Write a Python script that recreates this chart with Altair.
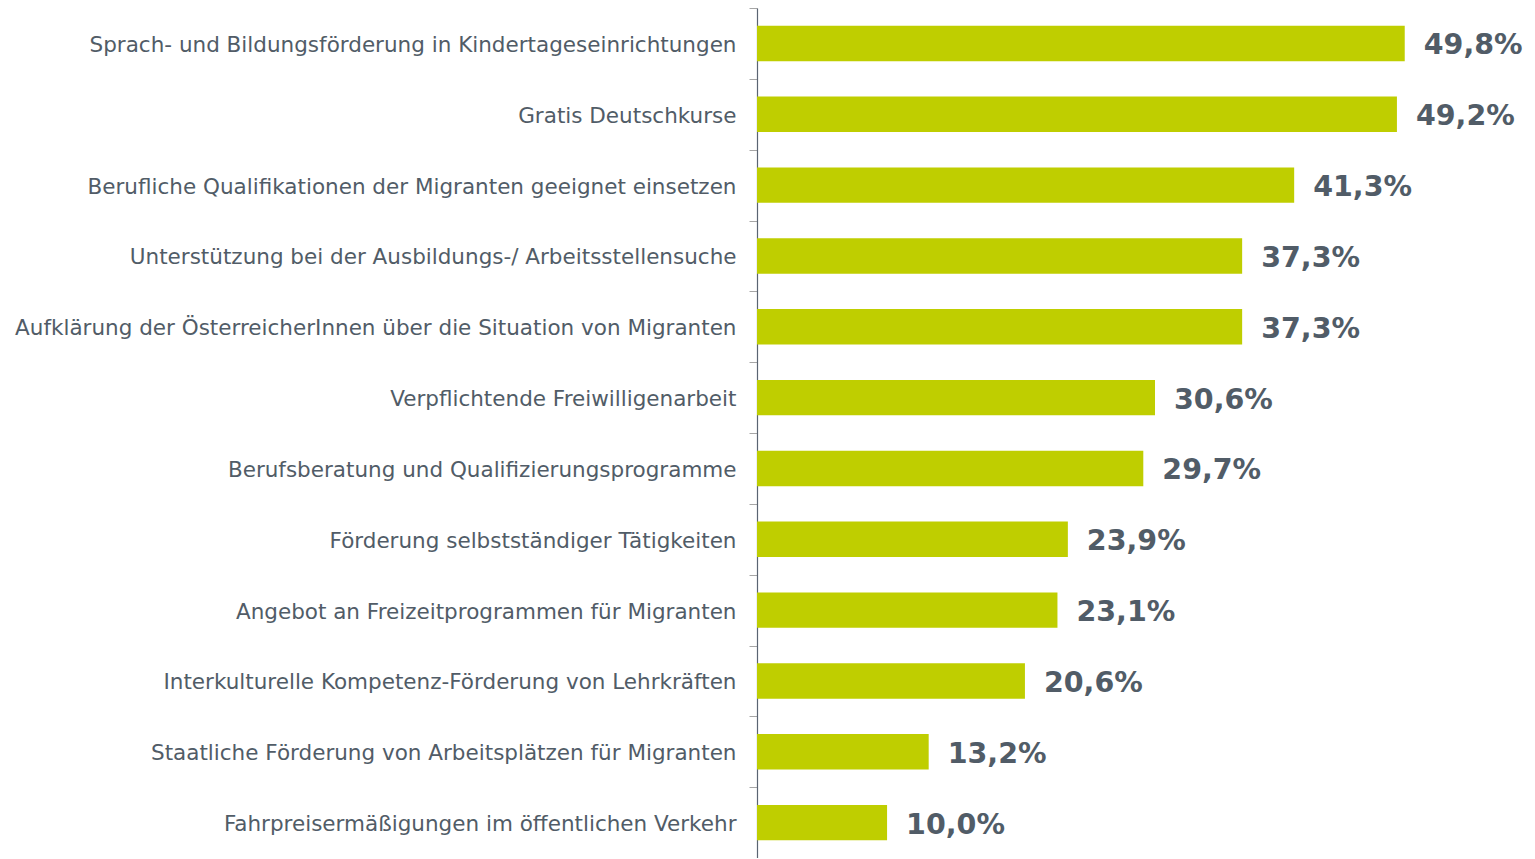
import altair as alt
import pandas as pd

categories = [
    "Sprach- und Bildungsförderung in Kindertageseinrichtungen",
    "Gratis Deutschkurse",
    "Berufliche Qualifikationen der Migranten geeignet einsetzen",
    "Unterstützung bei der Ausbildungs-/ Arbeitsstellensuche",
    "Aufklärung der ÖsterreicherInnen über die Situation von Migranten",
    "Verpflichtende Freiwilligenarbeit",
    "Berufsberatung und Qualifizierungsprogramme",
    "Förderung selbstständiger Tätigkeiten",
    "Angebot an Freizeitprogrammen für Migranten",
    "Interkulturelle Kompetenz-Förderung von Lehrkräften",
    "Staatliche Förderung von Arbeitsplätzen für Migranten",
    "Fahrpreisermäßigungen im öffentlichen Verkehr",
]
values = [49.8, 49.2, 41.3, 37.3, 37.3, 30.6, 29.7, 23.9, 23.1, 20.6, 13.2, 10.0]

df = pd.DataFrame({"cat": categories, "val": values})
df["lbl"] = [f"{v:.1f}".replace(".", ",") + "%" for v in values]

TEXT = "#515c67"
FONT = "DejaVu Sans"
H = 850
STEP = H / len(categories)

y = alt.Y(
    "cat:N",
    sort=categories,
    title=None,
    scale=alt.Scale(paddingInner=0.5, paddingOuter=0.25),
    axis=alt.Axis(
        labelFont=FONT,
        labelFontSize=21.5,
        labelColor=TEXT,
        labelLimit=1000,
        labelPadding=13,
        tickOffset=-STEP / 2,
        labelOffset=STEP / 2 + 2,
        tickSize=8,
        tickColor="#a6a6a6",
        domainColor="#5a6472",
        domainWidth=1.2,
        minExtent=749,
        maxExtent=749,
    ),
)
x = alt.X(
    "val:Q",
    title=None,
    scale=alt.Scale(domain=[0, 59.2], nice=False),
    axis=None,
)

bars = alt.Chart(df).mark_bar(color="#bfce00").encode(x=x, y=y)
text = alt.Chart(df).mark_text(
    align="left", baseline="middle", dx=19, dy=2, font=FONT, fontSize=28.5,
    fontWeight="bold", color=TEXT
).encode(x=x, y=y, text="lbl:N")

chart = (bars + text).properties(
    width=770, height=H,
    padding={"top": -1, "left": 0, "right": 0, "bottom": 0},
).configure_view(stroke=None)

chart.save("out.html", embed_options={"renderer": "svg", "actions": False})
